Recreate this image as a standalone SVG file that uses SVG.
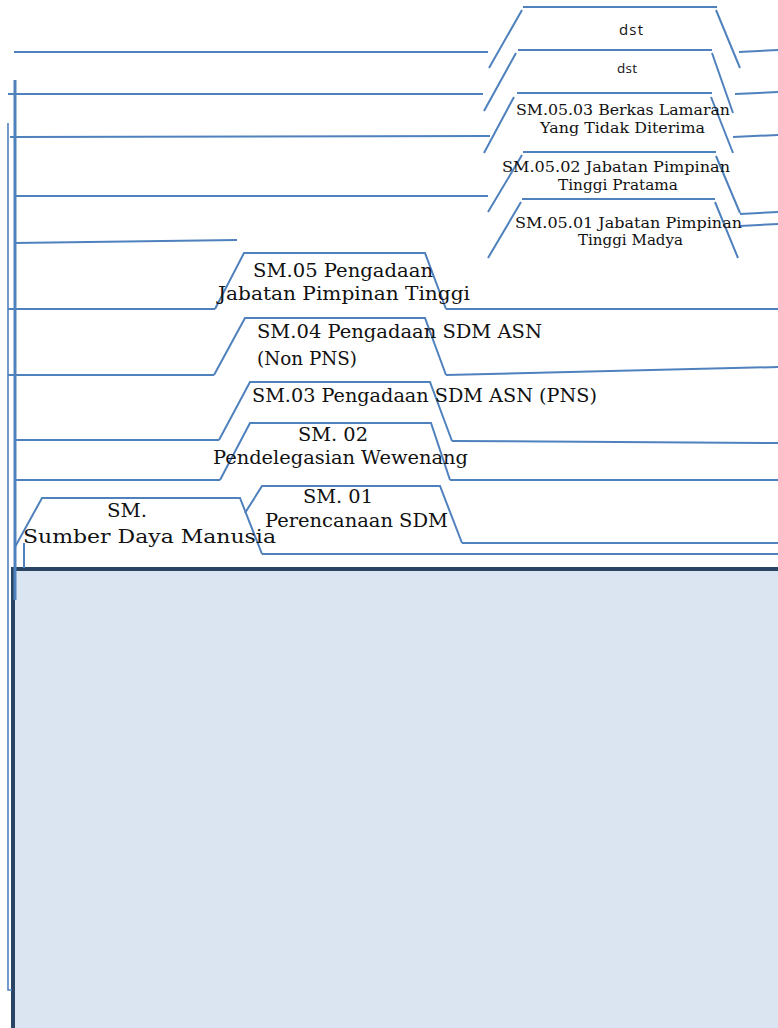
<svg xmlns="http://www.w3.org/2000/svg" width="778" height="1028" viewBox="0 0 778 1028">
  <style>
    .ln { fill: none; stroke: #4F81BD; stroke-width: 2; stroke-linecap: butt; }
    .thick { fill: none; stroke: #4F81BD; stroke-width: 3; }
    .thin { fill: none; stroke: #4F81BD; stroke-width: 1.6; }
    .navy { fill: none; stroke: #2A4466; stroke-width: 4; }
    .s { font-family: "DejaVu Serif", "Liberation Serif", serif; fill: #111111; }
    .sm { font-size: 14px; }
    .lg { font-size: 18.5px; }
    .sans { font-family: "Open Sans", "Noto Sans", sans-serif; fill: #111111; }
  </style>

  <!-- page body -->
  <rect x="13" y="569" width="765" height="459" fill="#DBE5F1"/>
  <path class="navy" d="M13,1028 L13,569 L778,569"/>

  <g id="connectors">
    <!-- spine lines -->
    <path class="thick" d="M15,80 L15,600"/>
    <path class="thin" d="M8,123 L8,990 L12,990"/>
    <!-- left rails of each tab -->
    <path class="ln" d="M14,52 L488,52"/>
    <path class="ln" d="M8,94 L483,94"/>
    <path class="ln" d="M10,137 L490,136"/>
    <path class="ln" d="M16,196 L488,196"/>
    <path class="ln" d="M14,243 L237,240"/>
    <path class="ln" d="M8,309 L215,309"/>
    <path class="ln" d="M8,375 L214,375"/>
    <path class="ln" d="M16,440 L219,440"/>
    <path class="ln" d="M16,480 L220,480"/>
    <!-- right rails of each tab -->
    <path class="ln" d="M739,52 L778,50"/>
    <path class="ln" d="M735,94 L778,92"/>
    <path class="ln" d="M733,137 L778,135"/>
    <path class="ln" d="M740,214 L778,212"/>
    <path class="ln" d="M740,226 L778,224"/>
    <path class="ln" d="M446,309 L778,309"/>
    <path class="ln" d="M446,375 L778,367"/>
    <path class="ln" d="M452,441 L778,443"/>
    <path class="ln" d="M450,480 L778,480"/>
    <path class="ln" d="M462,543 L778,543"/>
    <path class="ln" d="M262,554 L778,554"/>
  </g>

  <g id="dst-1">
    <path class="ln" d="M489,68 L522,10 M523,7 L717,7 M716,10 L740,68"/>
    <text class="sans" x="619" y="35" font-size="15" textLength="24">dst</text>
  </g>

  <g id="dst-2">
    <path class="ln" d="M484,111 L516,53 M518,50 L712,50 M712,53 L733,113"/>
    <text class="sans" x="617" y="73" font-size="13.5" textLength="20">dst</text>
  </g>

  <g id="sm-05-03">
    <path class="ln" d="M484,153 L514,97 M517,93 L712,93 M711,97 L733,153"/>
    <text class="s sm" x="516" y="115" textLength="214" lengthAdjust="spacingAndGlyphs">SM.05.03 Berkas Lamaran</text>
    <text class="s sm" x="540" y="133" textLength="165" lengthAdjust="spacingAndGlyphs">Yang Tidak Diterima</text>
  </g>

  <g id="sm-05-02">
    <path class="ln" d="M488,212 L522,155 M523,152 L716,152 M716,156 L740,213"/>
    <text class="s sm" x="502" y="172" textLength="228" lengthAdjust="spacingAndGlyphs">SM.05.02 Jabatan Pimpinan</text>
    <text class="s sm" x="558" y="190" textLength="120" lengthAdjust="spacingAndGlyphs">Tinggi Pratama</text>
  </g>

  <g id="sm-05-01">
    <path class="ln" d="M488,258 L521,202 M522,199 L715,199 M715,202 L738,258"/>
    <text class="s sm" x="515" y="228" textLength="227" lengthAdjust="spacingAndGlyphs">SM.05.01 Jabatan Pimpinan</text>
    <text class="s sm" x="578" y="245" textLength="105" lengthAdjust="spacingAndGlyphs">Tinggi Madya</text>
  </g>

  <g id="sm-05">
    <path class="ln" d="M215,309 L244,253 L425,253 L446,309"/>
    <text class="s lg" x="253" y="277" textLength="180" lengthAdjust="spacingAndGlyphs">SM.05 Pengadaan</text>
    <text class="s lg" x="218" y="300" textLength="252" lengthAdjust="spacingAndGlyphs">Jabatan Pimpinan Tinggi</text>
  </g>

  <g id="sm-04">
    <path class="ln" d="M214,375 L245,318 L425,318 L446,375"/>
    <text class="s lg" x="257" y="338" textLength="285" lengthAdjust="spacingAndGlyphs">SM.04 Pengadaan SDM ASN</text>
    <text class="s lg" x="257" y="365" textLength="100" lengthAdjust="spacingAndGlyphs">(Non PNS)</text>
  </g>

  <g id="sm-03">
    <path class="ln" d="M219,440 L250,382 L430,382 L452,441"/>
    <text class="s lg" x="252" y="402" textLength="345" lengthAdjust="spacingAndGlyphs">SM.03 Pengadaan SDM ASN (PNS)</text>
  </g>

  <g id="sm-02">
    <path class="ln" d="M220,480 L250,423 L431,423 L450,480"/>
    <text class="s lg" x="298" y="441" textLength="70" lengthAdjust="spacingAndGlyphs">SM. 02</text>
    <text class="s lg" x="213" y="464" textLength="255" lengthAdjust="spacingAndGlyphs">Pendelegasian Wewenang</text>
  </g>

  <g id="sm-01">
    <path class="ln" d="M245,513 L262,486 L440,486 L462,543"/>
    <text class="s lg" x="303" y="503" textLength="70" lengthAdjust="spacingAndGlyphs">SM. 01</text>
    <text class="s lg" x="265" y="527" textLength="183" lengthAdjust="spacingAndGlyphs">Perencanaan SDM</text>
  </g>

  <g id="sm">
    <path class="ln" d="M15,547 L42,498 L240,498 L262,554 M24,543 L24,568"/>
    <text class="s lg" x="107" y="517" textLength="40" lengthAdjust="spacingAndGlyphs">SM.</text>
    <text class="s lg" x="23" y="543" textLength="253" lengthAdjust="spacingAndGlyphs">Sumber Daya Manusia</text>
  </g>
</svg>
